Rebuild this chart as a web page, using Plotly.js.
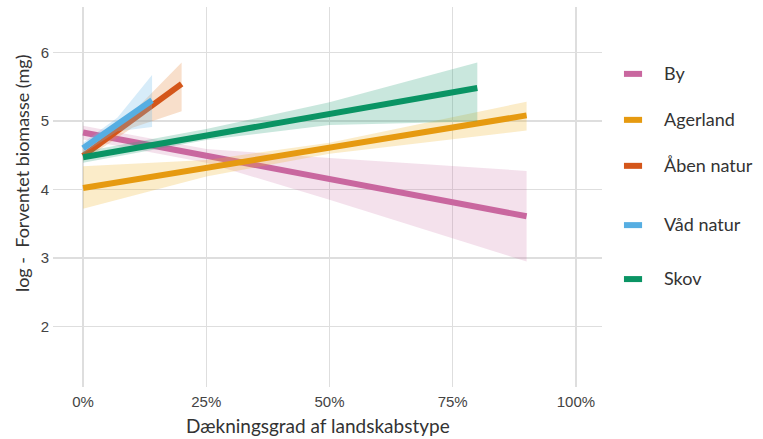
<!DOCTYPE html>
<html>
<head>
<meta charset="utf-8">
<script src="https://cdn.plot.ly/plotly-3.0.1.min.js"></script>
<style>html,body{margin:0;padding:0;background:#fff;}#chart{width:763px;height:439px;}</style>
</head>
<body>
<div id="chart"></div>
<script>
// Series names and colours
const seriesNames = ["By", "Agerland", "Åben natur", "Våd natur", "Skov"];
const seriesColors = ["#C9679F", "#E69A10", "#D4561A", "#56AEE2", "#0A9464"];
const bandColors = ["rgba(201,103,159,0.2)", "rgba(240,180,40,0.25)", "rgba(230,140,70,0.28)", "rgba(110,185,235,0.28)", "rgba(40,160,120,0.25)"];

// Fitted lines (x in %, y = log expected biomass)
const byX = [0, 90];           const byY = [4.83, 3.61];
const agerX = [0, 90];         const agerY = [4.02, 5.08];
const aabenX = [0, 20];        const aabenY = [4.49, 5.54];
const vaadX = [0, 14];         const vaadY = [4.60, 5.30];
const skovX = [0, 80];         const skovY = [4.47, 5.48];

// Confidence bands
const byBandX = [0, 25, 50, 90];     const byLo = [4.73, 4.39, 3.85, 2.95];  const byHi = [4.93, 4.59, 4.46, 4.27];
const agerBandX = [0, 25, 50, 90];   const agerLo = [3.72, 4.19, 4.52, 4.86]; const agerHi = [4.34, 4.43, 4.68, 5.28];
const aabenBandX = [0, 10, 20];      const aabenLo = [4.42, 4.90, 5.14];     const aabenHi = [4.58, 5.12, 5.85];
const vaadBandX = [0, 7, 14];        const vaadLo = [4.52, 4.85, 4.91];      const vaadHi = [4.68, 5.05, 5.67];
const skovBandX = [0, 25, 50, 80];   const skovLo = [4.39, 4.72, 4.94, 4.99]; const skovHi = [4.55, 4.88, 5.27, 5.85];

const xTicks = [0, 25, 50, 75, 100];
const xTickLabels = ["0%", "25%", "50%", "75%", "100%"];
const yTicks = [2, 3, 4, 5, 6];

const lines = [[byX, byY], [agerX, agerY], [aabenX, aabenY], [vaadX, vaadY], [skovX, skovY]];
const bands = [[byBandX, byLo, byHi], [agerBandX, agerLo, agerHi], [aabenBandX, aabenLo, aabenHi], [vaadBandX, vaadLo, vaadHi], [skovBandX, skovLo, skovHi]];

const traces = [];
for (let i = 0; i < seriesNames.length; i++) {
  const [bx, lo, hi] = bands[i];
  traces.push({
    x: bx.concat(bx.slice().reverse()),
    y: hi.concat(lo.slice().reverse()),
    type: "scatter", mode: "lines", fill: "toself",
    fillcolor: bandColors[i], line: {width: 0}, hoverinfo: "skip", showlegend: false
  });
  traces.push({
    x: lines[i][0], y: lines[i][1], type: "scatter", mode: "lines",
    name: seriesNames[i], line: {color: seriesColors[i], width: 6}, showlegend: false
  });
}

// Legend drawn at reference positions
const legendY = [0.824, 0.703, 0.582, 0.426, 0.284];
const shapes = [];
const annotations = [];
for (let i = 0; i < seriesNames.length; i++) {
  shapes.push({type: "line", xref: "paper", yref: "paper", x0: 1.040, x1: 1.073, y0: legendY[i], y1: legendY[i],
    line: {color: seriesColors[i], width: 6}});
  annotations.push({xref: "paper", yref: "paper", x: 1.109, y: legendY[i] + 0.003, xanchor: "left", yanchor: "middle",
    text: seriesNames[i], showarrow: false, font: {family: "Lato, 'Open Sans', sans-serif", size: 18, color: "#333"}});
}
annotations.push({xref: "paper", yref: "paper", x: 0.4836, y: -0.1026, xanchor: "center", yanchor: "middle",
  text: "Dækningsgrad af landskabstype", showarrow: false, font: {family: "Lato, 'Open Sans', sans-serif", size: 19, color: "#333"}});
annotations.push({xref: "paper", yref: "paper", x: -0.0565, y: 0.563, xanchor: "center", yanchor: "middle", textangle: -90,
  text: "log -  Forventet biomasse (mg)", showarrow: false, font: {family: "Lato, 'Open Sans', sans-serif", size: 18, color: "#333"}});

const layout = {
  width: 763, height: 439,
  margin: {l: 53, r: 161, t: 7, b: 52},
  paper_bgcolor: "#fff", plot_bgcolor: "#fff",
  showlegend: false,
  xaxis: {range: [-6.1, 105.3], tickvals: xTicks, ticktext: xTickLabels, showgrid: true, gridcolor: "#dedede", gridwidth: 1.5,
    zeroline: false, showline: false, ticks: "", ticklabelstandoff: 4,
    tickfont: {family: "'Liberation Sans', Arial, sans-serif", size: 15, color: "#444"}},
  yaxis: {range: [1.12, 6.66], tickvals: yTicks, showgrid: true, gridcolor: "#dedede", gridwidth: 1.5,
    zeroline: false, showline: false, ticks: "", ticklabelstandoff: 3,
    tickfont: {family: "'Liberation Sans', Arial, sans-serif", size: 15, color: "#444"}},
  shapes: shapes,
  annotations: annotations
};

Plotly.newPlot("chart", traces, layout, {displayModeBar: false, staticPlot: true});
</script>
</body>
</html>
